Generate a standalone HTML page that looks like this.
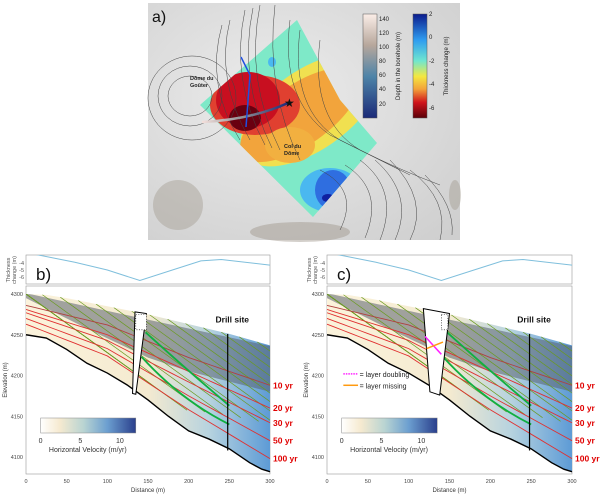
<!DOCTYPE html>
<html><head><meta charset="utf-8"><style>
body{margin:0;background:#fff;font-family:"Liberation Sans",sans-serif}
svg text{font-family:"Liberation Sans",sans-serif}
</style></head><body>
<svg id="fig" width="600" height="495" viewBox="0 0 600 495" xmlns="http://www.w3.org/2000/svg">
<defs>
<linearGradient id="velGrad" x1="0" x2="1" y1="0" y2="0"><stop offset="0" stop-color="#fff"/><stop offset="0.2" stop-color="#f6ead0"/><stop offset="0.45" stop-color="#b9d4d2"/><stop offset="0.7" stop-color="#6c9fd0"/><stop offset="1" stop-color="#2a3f8c"/></linearGradient>
<linearGradient id="iceGrad" x1="0" x2="1" y1="0" y2="0"><stop offset="0" stop-color="#fbf3dc"/><stop offset="0.5" stop-color="#f4ead0"/><stop offset="0.75" stop-color="#b7d3df"/><stop offset="1" stop-color="#5d9bd6"/></linearGradient>
<linearGradient id="depthGrad" x1="0" x2="0" y1="0" y2="1"><stop offset="0" stop-color="#fbeee8"/><stop offset="0.3" stop-color="#b7a79c"/><stop offset="0.6" stop-color="#4e84a8"/><stop offset="1" stop-color="#1b2a78"/></linearGradient>
<linearGradient id="thickGrad" x1="0" x2="0" y1="0" y2="1"><stop offset="0" stop-color="#0b1b8c"/><stop offset="0.25" stop-color="#2f9cf0"/><stop offset="0.45" stop-color="#6fe6d0"/><stop offset="0.6" stop-color="#f4e840"/><stop offset="0.72" stop-color="#f3a43a"/><stop offset="0.85" stop-color="#d0141c"/><stop offset="1" stop-color="#5a0008"/></linearGradient>
<linearGradient id="trackGrad" x1="0" x2="1" y1="0" y2="0"><stop offset="0" stop-color="#f4e0dc"/><stop offset="0.5" stop-color="#8a8a90"/><stop offset="1" stop-color="#1b2a78"/></linearGradient>
<radialGradient id="mapBg" cx="0.4" cy="0.4" r="0.8"><stop offset="0" stop-color="#ececec"/><stop offset="1" stop-color="#cfcfcf"/></radialGradient>
<clipPath id="mapClip"><polygon points="200,105 297,20 340,100 377,143 313,217"/></clipPath>
</defs>

<g>
<rect x="148" y="3" width="312" height="237" fill="url(#mapBg)"/>
<ellipse cx="178" cy="205" rx="25" ry="25" fill="#a59d92" opacity="0.45"/>
<ellipse cx="300" cy="232" rx="50" ry="10" fill="#9d958a" opacity="0.45"/>
<ellipse cx="455" cy="195" rx="6" ry="15" fill="#9d958a" opacity="0.4"/>
<g clip-path="url(#mapClip)">
<rect x="190" y="15" width="200" height="210" fill="#7ee9c8"/>
<ellipse cx="310" cy="110" rx="80" ry="40" fill="#f0e050" transform="rotate(-35 310 110)"/>
<ellipse cx="300" cy="115" rx="70" ry="30" fill="#f2a43c" transform="rotate(-35 300 115)"/>
<ellipse cx="255" cy="105" rx="45" ry="30" fill="#e04030"/>
<ellipse cx="248" cy="100" rx="32" ry="28" fill="#c80f20"/>
<ellipse cx="245" cy="118" rx="16" ry="13" fill="#6a0010"/>
<ellipse cx="290" cy="145" rx="25" ry="18" fill="#f2b040"/>
<ellipse cx="330" cy="190" rx="30" ry="22" fill="#4ab8f0"/>
<ellipse cx="333" cy="190" rx="18" ry="20" fill="#2f6ee0"/>
<ellipse cx="328" cy="198" rx="6" ry="4" fill="#1020a0"/>
<ellipse cx="272" cy="62" rx="4" ry="5" fill="#4ab8f0"/>
</g>
<g fill="none" stroke="#444" stroke-width="0.5">
<ellipse cx="190" cy="96" rx="22" ry="20"/><ellipse cx="190" cy="96" rx="32" ry="30"/><ellipse cx="192" cy="98" rx="44" ry="42"/>
<path d="M222 25 Q205 85 240 140"/><path d="M230 20 Q215 80 250 140"/><path d="M245 10 Q230 80 265 145"/><path d="M253 8 Q238 80 272 148"/><path d="M260 5 Q245 80 280 150"/><path d="M275 5 Q265 90 300 160"/>
<path d="M290 20 Q280 100 330 135 Q370 155 400 170"/><path d="M300 30 Q290 110 340 140 Q380 160 410 175"/><path d="M320 40 Q310 120 360 150 Q400 170 440 185"/>
<path d="M320 170 Q360 190 340 230"/><path d="M345 165 Q385 190 365 238"/><path d="M360 160 Q400 190 380 240"/><path d="M375 160 Q415 195 395 240"/><path d="M390 160 Q430 200 410 240"/><path d="M410 170 Q450 200 440 240"/><path d="M425 175 Q455 205 452 235"/>
</g>
<text x="190" y="80" font-size="5.5" font-weight="bold" fill="#222">Dôme du</text>
<text x="190" y="87" font-size="5.5" font-weight="bold" fill="#222">Goûter</text>
<text x="284" y="148" font-size="5.5" font-weight="bold" fill="#222">Col du</text>
<text x="284" y="155" font-size="5.5" font-weight="bold" fill="#222">Dôme</text>
<path d="M202 122 Q250 120 288 103" stroke="url(#trackGrad)" stroke-width="2.5" fill="none"/>
<path d="M241 57 L250 75 L246 127" stroke="#2050e0" stroke-width="1.5" fill="none"/>
<text x="284" y="107" font-size="12" fill="#111">★</text>
<text x="152" y="22" font-size="16" fill="#111">a)</text>
<rect x="363" y="14" width="14" height="104" fill="url(#depthGrad)" stroke="#555" stroke-width="0.5"/>
<g font-size="6" fill="#222">
<text x="379" y="21">140</text><text x="379" y="35">120</text><text x="379" y="49">100</text><text x="379" y="63">80</text><text x="379" y="77">60</text><text x="379" y="91">40</text><text x="379" y="106">20</text></g>
<text transform="translate(400 66) rotate(-90)" text-anchor="middle" font-size="6" fill="#222">Depth in the borehole (m)</text>
<rect x="413" y="14" width="14" height="104" fill="url(#thickGrad)" stroke="#555" stroke-width="0.5"/>
<g font-size="6" fill="#222">
<text x="429" y="16">2</text><text x="429" y="39">0</text><text x="429" y="63">-2</text><text x="429" y="86">-4</text><text x="429" y="110">-6</text></g>
<text transform="translate(448 66) rotate(-90)" text-anchor="middle" font-size="6" fill="#222">Thickness change (m)</text>
</g>
<g id="panelB"></g>
<g id="panelC"></g>
</svg>
<script>
const surfD=[0,25,50,100,150,200,250,300];
const surfE=[4300,4299,4295,4285,4275,4263,4251,4237];
const bedD=[0,25,50,75,100,125,150,175,200,225,250,275,290,300];
const bedE=[4250,4246,4232,4215,4203,4188,4170,4150,4132,4122,4110,4093,4085,4082];
const isoLabels=["10 yr","20 yr","30 yr","50 yr","100 yr"];
const isoD=[0,100,200,300];
const isoE=[[4286,4262,4222,4188],[4281,4250,4205,4160],[4277,4243,4192,4142],[4270,4233,4175,4120],[4263,4224,4158,4098]];
const thickD=[0,60,100,140,180,215,240,300];
const thickV=[-2.5,-3.9,-5,-6.5,-5,-3.7,-3.5,-4.3];
const xTicks=[0,50,100,150,200,250,300];
const yTicks=[4100,4150,4200,4250,4300];
const tTicks=[-4,-5,-6];
const NS="http://www.w3.org/2000/svg";
function mk(p,tag,at,txt){const e=document.createElementNS(NS,tag);for(const k in at)e.setAttribute(k,at[k]);if(txt!==undefined)e.textContent=txt;p.appendChild(e);return e;}
function interp(ds,es,d){if(d<=ds[0])return es[0];for(let i=1;i<ds.length;i++){if(d<=ds[i]){const t=(d-ds[i-1])/(ds[i]-ds[i-1]);return es[i-1]+t*(es[i]-es[i-1]);}}return es[es.length-1];}
function draw(g,x0,x300,label,isC,idx){
  const X=d=>x0+d*(x300-x0)/300, Y=e=>294+(4300-e)*0.815, TY=v=>263-(v+4)*7;
  const L=X(0),R=X(300);
  const tf=mk(g,'rect',{x:L,y:255,width:R-L,height:29,fill:'#fff',stroke:'#999','stroke-width':0.6});
  
  mk(g,'clipPath',{id:'tc'+idx}).appendChild(document.createElementNS(NS,'rect'));
  const cr=g.lastChild.firstChild;cr.setAttribute('x',L);cr.setAttribute('y',255);cr.setAttribute('width',R-L);cr.setAttribute('height',29);
  let tp='';thickD.forEach((d,i)=>{tp+=(i?'L':'M')+X(d)+' '+TY(thickV[i]);});
  const tl=mk(g,'path',{d:tp,fill:'none',stroke:'#7fbfdc','stroke-width':1,'clip-path':'url(#tc'+idx+')'});
  
  tTicks.forEach(v=>{const t=mk(g,'text',{x:L-2,y:TY(v)+2,'font-size':5.5,'text-anchor':'end',fill:'#555'},v);});
  const tt=mk(g,'text',{transform:`translate(${L-16} 270) rotate(-90)`,'font-size':5.5,'text-anchor':'middle',fill:'#555'},'Thickness');
  
  const tt2=mk(g,'text',{transform:`translate(${L-10} 270) rotate(-90)`,'font-size':5.5,'text-anchor':'middle',fill:'#555'},'change (m)');
  
  const pl=mk(g,'text',{x:L+10,y:280,'font-size':17,fill:'#111'},label);
  
  const mf=mk(g,'rect',{x:L,y:286,width:R-L,height:188,fill:'#fff',stroke:'#999','stroke-width':0.6});
  
  let ip='';surfD.forEach((d,i)=>{ip+=(i?'L':'M')+X(d)+' '+Y(surfE[i]);});
  for(let i=bedD.length-1;i>=0;i--)ip+='L'+X(bedD[i])+' '+Y(bedE[i]);ip+='Z';
  const cp=mk(g,'clipPath',{id:'ic'+idx});mk(cp,'path',{d:ip});
  const ice=mk(g,'path',{d:ip,fill:'url(#iceGrad)'});
  
  const fd=`M${X(0)} ${Y(4301)} L${X(300)} ${Y(4236)} L${X(300)} ${Y(4180)} L${X(200)} ${Y(4205)} L${X(150)} ${Y(4222)} L${X(80)} ${Y(4255)} L${X(0)} ${Y(4295)}Z`;
  const firn=mk(g,'path',{d:fd,fill:'#5a6370','fill-opacity':0.55,'clip-path':'url(#ic'+idx+')'});
  
  const gg=mk(g,'g',{'clip-path':'url(#ic'+idx+')',stroke:'#6a9a20','stroke-width':0.7});
  
  for(let s=-200;s<=300;s+=22){const e0=interp(surfD,surfE,Math.max(0,s));mk(gg,'line',{x1:X(s),y1:Y(e0+ (s<0? -s*0.72:0)),x2:X(s+200),y2:Y(e0+(s<0?-s*0.72:0)-144)});}
  isoE.forEach((arr,k)=>{let p='';for(let d=0;d<=300;d+=10)p+=(d?'L':'M')+X(d)+' '+Y(interp(isoD,arr,d));
    const ln=mk(g,'path',{d:p,fill:'none',stroke:k==0?'#b04040':'#e03030','stroke-width':0.9});
    
    const lb=mk(g,'text',{x:R+3,y:Y(arr[3])+3,'font-size':8.5,'font-weight':'bold',fill:'#e00000'},isoLabels[k]);
    });
  let bp='';bedD.forEach((d,i)=>{bp+=(i?'L':'M')+X(d)+' '+Y(bedE[i]);});
  const bed=mk(g,'path',{d:bp,fill:'none',stroke:'#000','stroke-width':1.4});
  
  const g1=mk(g,'path',{d:`M${X(147)} ${Y(4253)} Q${X(200)} ${Y(4205)} ${X(250)} ${Y(4163)}`,fill:'none',stroke:'#10b040','stroke-width':1.8});
  
  const g2=mk(g,'path',{d:`M${X(142)} ${Y(4223)} Q${X(190)} ${Y(4170)} ${X(250)} ${Y(4140)}`,fill:'none',stroke:'#10b040','stroke-width':1.8});
  
  const bh=isC?`M${X(118)} ${Y(4282)} L${X(150)} ${Y(4276)} L${X(138)} ${Y(4176)} L${X(126)} ${Y(4180)}Z`:`M${X(134)} ${Y(4278)} L${X(148)} ${Y(4276)} L${X(135)} ${Y(4177)} L${X(131)} ${Y(4178)}Z`;
  const b=mk(g,'path',{d:bh,fill:'#fff',stroke:'#000','stroke-width':1});
  
  const dt=mk(g,'rect',{x:X(isC?140:135),y:Y(4275),width:X(148)-X(isC?140:135),height:Y(4256)-Y(4275),fill:'#fff',stroke:'#000','stroke-width':0.6,'stroke-dasharray':'1 1.5'});
  
  if(isC){
    const a1=mk(g,'line',{x1:X(120),y1:Y(4248),x2:X(140),y2:Y(4226),stroke:'#ff20ff','stroke-width':1.5});
    
    const a2=mk(g,'line',{x1:X(122),y1:Y(4233),x2:X(142),y2:Y(4241),stroke:'#ff9a10','stroke-width':1.5});
    
    [[4202,'layer doubling','#ff20ff'],[4188,'layer missing','#ff9a10']].forEach(([e,t,c])=>{
      const ll=mk(g,'line',{x1:X(20),y1:Y(e),x2:X(38),y2:Y(e),stroke:c,'stroke-width':1.5,'stroke-dasharray':c=='#ff20ff'?'1.5 1':''});
      
      const lt=mk(g,'text',{x:X(40),y:Y(e)+3,'font-size':7,fill:'#222'},'= '+t);
      });
  }
  const ds=mk(g,'line',{x1:X(248),y1:Y(4251),x2:X(248),y2:Y(4108),stroke:'#000','stroke-width':1.2});
  
  const dl=mk(g,'text',{x:X(233),y:Y(4265),'font-size':8.5,'font-weight':'bold',fill:'#111'},'Drill site');
  
  const cb=mk(g,'rect',{x:X(18),y:418,width:X(135)-X(18),height:15,fill:'url(#velGrad)',stroke:'#888','stroke-width':0.5});
  
  [0,5,10].forEach(v=>{const t=mk(g,'text',{x:X(18)+v*(X(135)-X(18))/12,y:443,'font-size':7,'text-anchor':'middle',fill:'#333'},v);});
  const ct=mk(g,'text',{x:X(76),y:452,'font-size':7,'text-anchor':'middle',fill:'#333'},'Horizontal Velocity (m/yr)');
  
  xTicks.forEach(v=>{const t=mk(g,'text',{x:X(v),y:483,'font-size':5.5,'text-anchor':'middle',fill:'#444'},v);});
  yTicks.forEach(v=>{const t=mk(g,'text',{x:L-3,y:Y(v)+2,'font-size':5.5,'text-anchor':'end',fill:'#444'},v);});
  const xt=mk(g,'text',{x:(L+R)/2,y:492,'font-size':6,'text-anchor':'middle',fill:'#333'},'Distance (m)');
  
  const yt=mk(g,'text',{transform:`translate(${L-19} 380) rotate(-90)`,'font-size':6,'text-anchor':'middle',fill:'#333'},'Elevation (m)');
  
}
draw(document.getElementById('panelB'),26,270,'b)',false,0);
draw(document.getElementById('panelC'),327,572,'c)',true,1);
</script>
</body></html>
